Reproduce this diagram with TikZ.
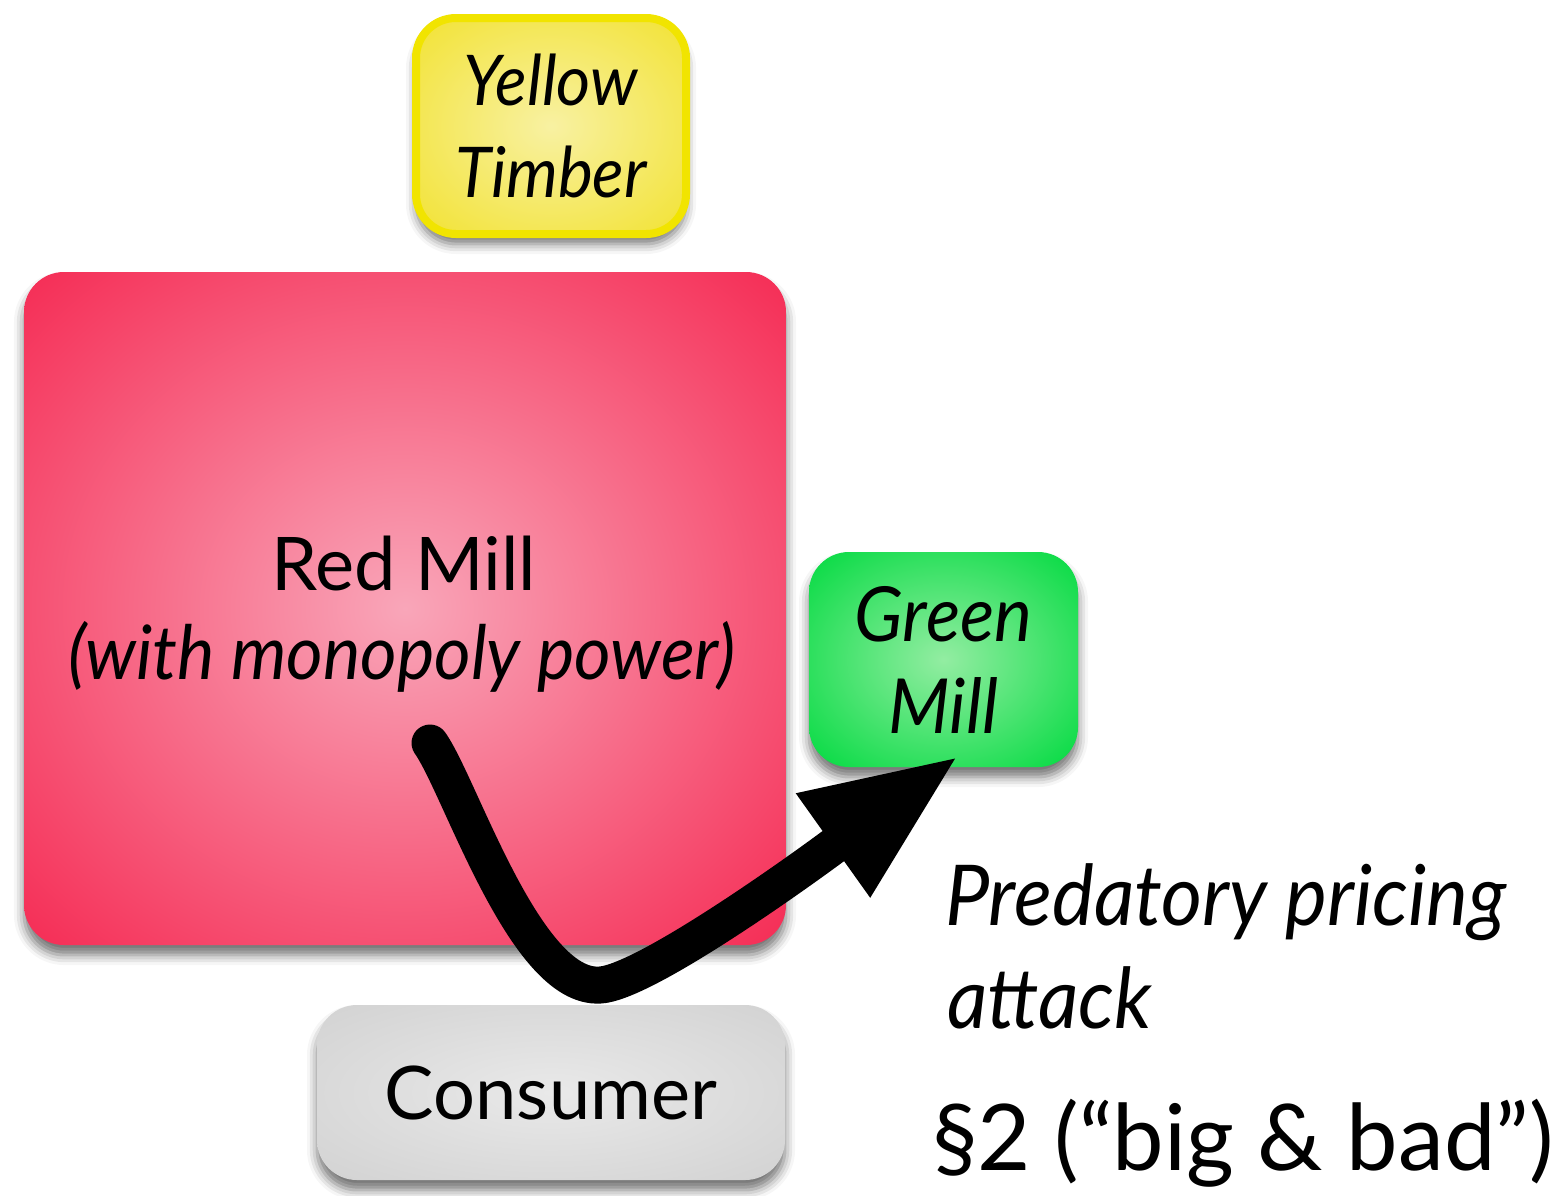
\documentclass[tikz,border=0pt]{standalone}
\usepackage{fontspec}
\setmainfont{Lato}
\newfontfamily\slimfont{Lato}[FakeStretch=0.94]
\usetikzlibrary{shadows.blur,arrows.meta}

% box colours
\definecolor{redin}{HTML}{F9A6B9}
\definecolor{redout}{HTML}{F52A53}
\definecolor{yelin}{HTML}{F8F1A2}
\definecolor{yelout}{HTML}{F2E231}
\definecolor{yelrim}{HTML}{F1E400}
\definecolor{grnin}{HTML}{93EDA2}
\definecolor{grnout}{HTML}{00DA3F}
\definecolor{gryin}{HTML}{E9E9E9}
\definecolor{gryout}{HTML}{D2D2D2}

% centre-lit fills, darkest in the corners
\pgfdeclareradialshading{redglow}{\pgfpoint{0bp}{0bp}}{color(0bp)=(redin); color(36bp)=(redout); color(50bp)=(redout)}
\pgfdeclareradialshading{yelglow}{\pgfpoint{0bp}{0bp}}{color(0bp)=(yelin); color(36bp)=(yelout); color(50bp)=(yelout)}
\pgfdeclareradialshading{grnglow}{\pgfpoint{0bp}{0bp}}{color(0bp)=(grnin); color(36bp)=(grnout); color(50bp)=(grnout)}
\pgfdeclareradialshading{gryglow}{\pgfpoint{0bp}{0bp}}{color(0bp)=(gryin); color(36bp)=(gryout); color(50bp)=(gryout)}

\tikzset{
  firm/.style={rounded corners=20pt, inner sep=0pt, align=center,
    blur shadow={shadow xshift=0pt, shadow yshift=-5pt,
      shadow blur radius=5pt, shadow opacity=55}},
  bigtext/.style={font=\fontsize{37}{46}\selectfont},
  slimtext/.style={font=\slimfont\itshape\fontsize{#1}{46}\selectfont},
  slimtext/.default=38,
  attack/.style={line width=18.5pt, line cap=round,
    -{Triangle[length=78pt,width=58pt]}},
}

\begin{document}
\begin{tikzpicture}[x=0.5pt, y=-0.5pt]
\useasboundingbox (0,0) rectangle (1561,1195);

% the firms
\node[firm, shading=yelglow, draw=yelrim, line width=4pt,
      minimum width=135pt, minimum height=108pt, slimtext=35]
      (yellow) at (551,126) {Yellow\\Timber};

\node[firm, shading=redglow, minimum width=381pt, minimum height=336.5pt]
      (red) at (405,608.5) {};
\node[bigtext, align=center] (redname) at (404,563) {Red Mill};
\node[slimtext=37.5] (redpower) at (402,657) {(with monopoly power)};

\node[firm, shading=grnglow, minimum width=134.5pt, minimum height=107.5pt,
      slimtext] (green) at (943.5,659.5) {Green\\Mill};

\node[firm, shading=gryglow, minimum width=234pt, minimum height=87.5pt,
      bigtext] (consumer) at (551,1092.5) {Consumer};

% labels
\node[anchor=base west, slimtext=42] (pred) at (938,925) {Predatory pricing};
\node[anchor=base west, slimtext=42] (atk) at (940,1028) {attack};
\node[anchor=base west, font=\fontsize{46}{54}\selectfont]
      (law) at (925,1170) {§2 (“big \& bad”)};

% the attack arrow
\coordinate (from) at (430,743);
\coordinate (hit) at (960,755);
\draw[attack] (from) .. controls (460,785) and (525,990) .. (600,985)
      .. controls (655,982) and (880,812) .. (hit);
\end{tikzpicture}
\end{document}
